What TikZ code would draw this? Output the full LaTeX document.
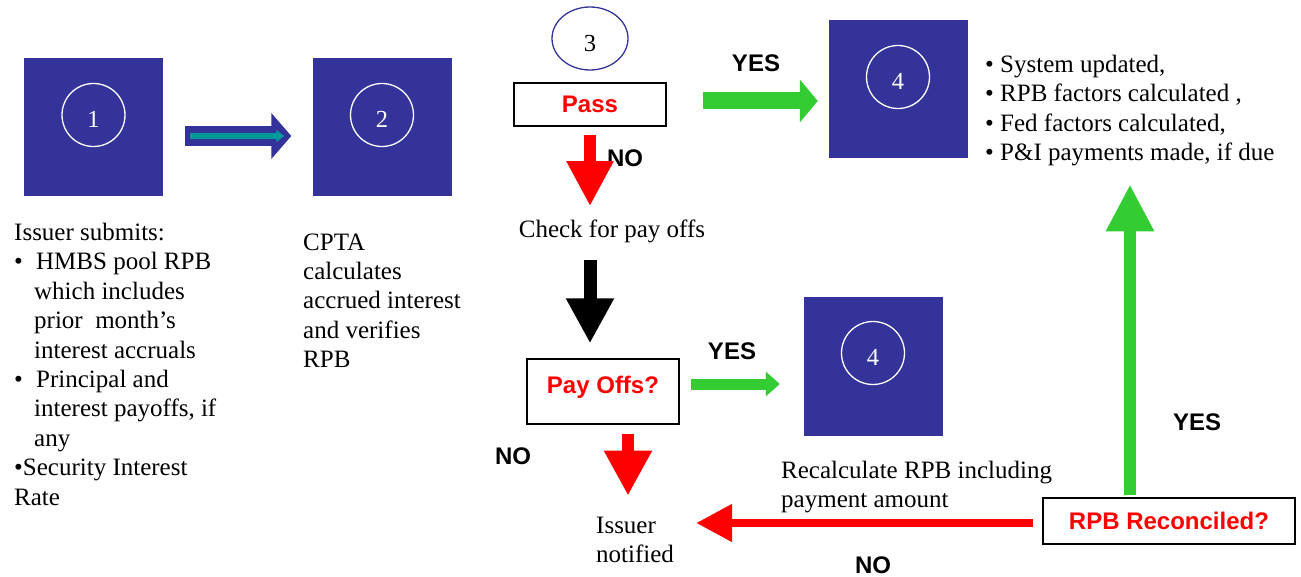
\documentclass[tikz,border=0pt]{standalone}
\usepackage{fontspec}
\setmainfont{Liberation Serif}
\newfontfamily\labelsans{Liberation Sans}
\usetikzlibrary{arrows.meta,shapes.geometric}
\definecolor{boxblue}{RGB}{51,51,153}
\definecolor{arrowteal}{RGB}{0,153,153}
\definecolor{arrowgreen}{RGB}{51,204,51}
\definecolor{arrowred}{RGB}{255,0,0}
\begin{document}
\begin{tikzpicture}[x=1pt,y=-1pt,
  bluebox/.style={fill=boxblue, draw=none, minimum width=139pt, minimum height=138pt, inner sep=0pt},
  numcircle/.style={circle, draw=white, line width=1.3pt, minimum size=63pt, inner sep=0pt, text=white, text height=25.6pt, text depth=0pt, font=\fontsize{24.5}{29}\selectfont},
  serif/.style={font=\fontsize{25}{29.4}\selectfont, inner sep=0pt, align=left, anchor=north west},
  lbl/.style={font=\labelsans\bfseries\fontsize{24}{28}\selectfont, inner sep=0pt},
  decbox/.style={draw=black, line width=1.3pt, text=arrowred, inner sep=0pt, font=\labelsans\bfseries\fontsize{24}{28}\selectfont},
  redarrow/.style={draw=arrowred},
  greenarrow/.style={draw=arrowgreen},
]
\useasboundingbox (0,0) rectangle (1301,577);

% blue boxes
\node[bluebox] (b1) at (93.5,127) {};
\node[numcircle] (c1) at (93.5,115) {1};
\node[bluebox] (b2) at (382,127) {};
\node[numcircle] (c2) at (382,115) {2};
\node[bluebox] (b4a) at (898.5,89) {};
\node[numcircle] (c4a) at (898,77) {4};
\node[bluebox] (b4b) at (873.5,366.5) {};
\node[numcircle] (c4b) at (873,353) {4};

% step 3
\node[ellipse, draw=boxblue, line width=1.3pt, minimum width=76pt, minimum height=63pt, inner sep=0pt, text height=25.6pt, text depth=0pt, font=\fontsize{24.5}{29}\selectfont] (e3) at (590,38.5) {3};
\node[decbox, minimum width=152pt, minimum height=43pt] (pass) at (590,104.5) {Pass};
\node[decbox, minimum width=152pt, minimum height=65pt, text height=12pt, text depth=8.8pt] (payoffs) at (603,391.5) {Pay Offs?};
\node[decbox, minimum width=252pt, minimum height=46pt] (rpb) at (1169,521) {RPB Reconciled?};

% texts
\node[serif] (t1) at (14,223) {Issuer submits:\\
\makebox[22pt][l]{•}HMBS pool RPB\\
\hspace*{20pt}which includes\\
\hspace*{20pt}prior\ \ month’s\\
\hspace*{20pt}interest accruals\\
\makebox[22pt][l]{•}Principal and\\
\hspace*{20pt}interest payoffs, if\\
\hspace*{20pt}any\\
•Security Interest\\
Rate};
\node[serif] (t2) at (303,233.4) {CPTA\\calculates\\accrued interest\\and verifies\\RPB};
\node[serif] (list) at (985,55) {• System updated,\\• RPB factors calculated ,\\• Fed factors calculated,\\• P\&I payments made, if due};
\node[serif, anchor=base] (check) at (612,238) {Check for pay offs};
\node[serif] (issuer) at (596,516.5) {Issuer\\notified};
\node[serif] (recalc) at (781,461) {Recalculate RPB including\\payment amount};

% labels
\node[lbl] (yes1) at (756,63) {YES};
\node[lbl] (no1) at (625,158) {NO};
\node[lbl] (yes2) at (732,351) {YES};
\node[lbl] (no2) at (513,456) {NO};
\node[lbl] (no3) at (873,565) {NO};
\node[lbl] (yes3) at (1197,422) {YES};

% 1 -> 2
\draw[line width=20pt, draw=boxblue, -{Triangle[length=20pt,width=45pt]}] ([xshift=22pt,yshift=-9pt]b1.east) -- ([xshift=-21pt,yshift=-9pt]b2.west);
\draw[line width=6.5pt, draw=arrowteal, -{Triangle[length=8pt,width=12pt]}] ([xshift=27pt,yshift=-9pt]b1.east) -- ([xshift=-28pt,yshift=-9pt]b2.west);

% pass -> 4 (yes)
\coordinate (gA) at ([xshift=36pt,yshift=3.5pt]pass.east);
\coordinate (b4aw) at ([xshift=-11pt]b4a.west);
\draw[greenarrow, line width=17pt, -{Triangle[length=18pt,width=42pt]}] (gA) -- (gA -| b4aw);

% pass -> check (no)
\coordinate (rA) at ([yshift=-8pt]pass.south);
\coordinate (rAe) at (pass.south |- check.north);
\draw[redarrow, line width=12pt, -{Triangle[length=45pt,width=44pt]}] (rA) -- ([yshift=14pt]rAe);

% check -> payoffs
\coordinate (cS) at (pass.south |- check.south);
\coordinate (pE) at (pass.south |- payoffs.north);
\draw[line width=13pt, draw=black, -{Triangle[length=45pt,width=45pt]}] ([yshift=-16pt]cS) -- ([yshift=15pt]pE);

% payoffs -> 4 (yes)
\coordinate (gB) at ([xshift=11pt,yshift=7.5pt]payoffs.east);
\coordinate (b4bw) at ([xshift=-24pt]b4b.west);
\draw[greenarrow, line width=11pt, -{Triangle[length=14pt,width=24pt]}] (gB) -- (gB -| b4bw);

% payoffs -> issuer (no)
\coordinate (rB) at ([xshift=25pt,yshift=-9pt]payoffs.south);
\coordinate (rBe) at ([xshift=25pt,yshift=-71pt]payoffs.south);
\draw[redarrow, line width=12pt, -{Triangle[length=45pt,width=45pt]}] (rB) -- (rBe);

% rpb -> issuer (no)
\coordinate (rC) at ([xshift=-9pt,yshift=-2pt]rpb.west);
\coordinate (issE) at ([xshift=22pt]issuer.east);
\draw[redarrow, line width=8pt, -{Triangle[length=36pt,width=36pt]}] (rC) -- (rC -| issE);

% rpb -> list (yes)
\coordinate (gC) at ([xshift=-39pt,yshift=2pt]rpb.north);
\coordinate (lstS) at ([yshift=-18pt]list.south);
\draw[greenarrow, line width=12pt, -{Triangle[length=47pt,width=45pt]}] (gC) -- (gC |- lstS);
\end{tikzpicture}
\end{document}
